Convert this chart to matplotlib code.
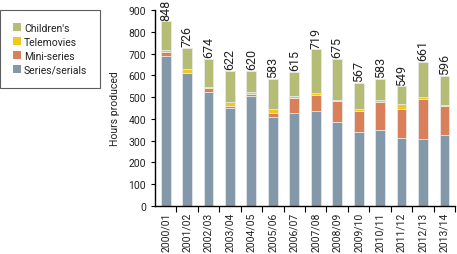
import matplotlib
matplotlib.use("Agg")
import matplotlib.pyplot as plt
import numpy as np
from matplotlib.patches import Patch

plt.rcParams["font.family"] = ["Roboto", "DejaVu Sans"]

years = ["2000/01", "2001/02", "2002/03", "2003/04", "2004/05", "2005/06", "2006/07",
         "2007/08", "2008/09", "2009/10", "2010/11", "2011/12", "2012/13", "2013/14"]
totals = [848, 726, 674, 622, 620, 583, 615, 719, 675, 567, 583, 549, 661, 596]
series = [690, 612, 525, 452, 507, 411, 425, 438, 388, 338, 347, 311, 306, 324]
mini = [18, 0, 18, 5, 9, 18, 73, 73, 96, 100, 132, 136, 187, 133]
tele = [9, 18, 5, 22, 9, 18, 9, 9, 5, 9, 10, 23, 9, 9]
children = [t - s - m - v for t, s, m, v in zip(totals, series, mini, tele)]

colors = {
    "Series/serials": "#8399a9",
    "Mini-series": "#d97f5a",
    "Telemovies": "#f2c81c",
    "Children's": "#b5bc76",
}

fig = plt.figure(figsize=(4.57, 2.55), dpi=100)
ax = fig.add_axes([0.339, 0.188, 0.657, 0.769])

x = np.arange(len(years))
width = 0.46
bottom = np.zeros(len(years))
for name, vals in [("Series/serials", series), ("Mini-series", mini),
                   ("Telemovies", tele), ("Children's", children)]:
    ax.bar(x, vals, width, bottom=bottom, color=colors[name],
           edgecolor="#e8ecef", linewidth=0.5)
    bottom += np.array(vals)

for xi, t in zip(x, totals):
    ax.text(xi, t + 8, str(t), rotation=90, ha="center", va="bottom",
            fontsize=9, color="#222222", clip_on=False)

ax.set_xlim(-0.5, len(years) - 0.5)
ax.set_ylim(0, 900)
ax.set_yticks(range(0, 901, 100))
ax.set_xticks(x)
ax.set_xticklabels(years, rotation=90, fontsize=7.5, color="#222222")
ax.set_xticks(np.arange(0.5, len(years), 1), minor=True)
ax.tick_params(axis="x", which="major", length=0, pad=4)
ax.tick_params(axis="x", which="minor", length=4, width=0.8, direction="out")
ax.tick_params(axis="y", labelsize=7.5, length=3, width=0.8, direction="out",
               labelcolor="#222222")
ax.set_ylabel("Hours produced", fontsize=7.5, labelpad=6, color="#222222")

for side in ["top", "right"]:
    ax.spines[side].set_visible(False)
for side in ["left", "bottom"]:
    ax.spines[side].set_linewidth(1.0)

handles = [Patch(facecolor=colors[n], label=n) for n in
           ["Children's", "Telemovies", "Mini-series", "Series/serials"]]
leg = fig.legend(handles=handles, loc="upper left", bbox_to_anchor=(0.0, 1 - 11 / 255),
                 fontsize=7.5, frameon=True, fancybox=False, edgecolor="#333333",
                 handlelength=0.8, handleheight=0.8, handletextpad=0.3,
                 labelspacing=0.4, borderpad=1.2, borderaxespad=0.0)
leg.get_frame().set_linewidth(0.8)
for t in leg.get_texts():
    t.set_color("#222222")

fig.savefig("out.png", dpi=100)
